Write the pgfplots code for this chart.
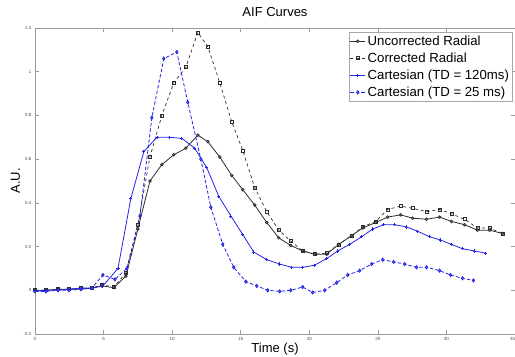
\documentclass[border=0pt]{standalone}
\usepackage{fontspec}
\setmainfont{Liberation Sans}
\usepackage{pgfplots}
\usepackage{pgfplotstable}
\pgfplotsset{compat=1.18}
\definecolor{dk}{RGB}{45,45,45}
\definecolor{bl}{RGB}{35,35,235}

\pgfplotstableread{
x y
0 0.0
0.8 0.0
1.68 0.005
2.48 0.005
3.35 0.005
4.15 0.01
4.88 0.02
5.75 0.012
6.63 0.065
7.5 0.28
8.38 0.50
9.25 0.575
10.12 0.62
11.0 0.65
11.87 0.71
12.6 0.68
13.47 0.61
14.35 0.525
15.15 0.46
16.02 0.39
16.9 0.31
17.77 0.24
18.65 0.205
19.52 0.18
20.39 0.165
21.27 0.165
22.14 0.21
23.09 0.25
23.89 0.285
24.84 0.31
25.71 0.335
26.66 0.345
27.53 0.33
28.55 0.325
29.5 0.335
30.37 0.315
31.32 0.30
32.26 0.275
33.14 0.275
34.09 0.26
}\uncorr

\pgfplotstableread{
x y
0 0.0
0.8 0.0
1.68 0.005
2.48 0.005
3.35 0.01
4.15 0.01
4.88 0.025
5.75 0.015
6.63 0.08
7.5 0.30
8.38 0.61
9.25 0.80
10.12 0.95
11.0 1.02
11.87 1.18
12.6 1.115
13.47 0.95
14.35 0.77
15.15 0.64
16.02 0.47
16.9 0.36
17.77 0.275
18.65 0.225
19.52 0.18
20.39 0.165
21.27 0.17
22.14 0.21
23.09 0.25
23.89 0.29
24.84 0.315
25.71 0.37
26.66 0.385
27.53 0.375
28.55 0.36
29.5 0.37
30.37 0.35
31.32 0.325
32.26 0.285
33.14 0.285
34.09 0.26
}\corr

\pgfplotstableread{
x y
0 -0.005
0.8 0.0
1.68 0.0
2.48 0.005
3.35 0.01
4.15 0.01
4.95 0.02
6.05 0.10
6.99 0.42
7.94 0.635
8.89 0.70
9.83 0.70
10.71 0.695
11.65 0.65
12.53 0.56
13.40 0.43
14.28 0.34
15.15 0.255
15.95 0.175
16.90 0.14
17.84 0.12
18.72 0.105
19.52 0.105
20.39 0.115
21.27 0.145
22.07 0.18
22.94 0.21
23.82 0.245
24.62 0.28
25.42 0.30
26.22 0.30
27.09 0.29
27.90 0.27
28.77 0.245
29.57 0.23
30.37 0.21
31.17 0.19
32.05 0.18
32.85 0.17
}\cartA

\pgfplotstableread{
x y
0 -0.005
0.8 -0.005
1.68 0.0
2.48 0.0
3.35 0.005
4.15 0.01
4.95 0.07
5.83 0.05
6.70 0.10
7.65 0.34
8.52 0.79
9.39 1.06
10.34 1.09
11.14 0.86
12.09 0.60
12.82 0.38
13.69 0.21
14.49 0.105
15.37 0.04
16.17 0.02
16.97 0.0
17.84 -0.005
18.65 0.0
19.52 0.015
20.25 -0.01
21.12 0.0
22.0 0.035
22.80 0.07
23.67 0.09
24.55 0.12
25.35 0.14
26.15 0.13
26.95 0.12
27.82 0.105
28.55 0.105
29.50 0.09
30.30 0.07
31.17 0.055
31.97 0.045
}\cartB

\begin{document}
\begin{tikzpicture}
\begin{axis}[
  scale only axis, width=480pt, height=306pt,
  xmin=0, xmax=35, ymin=-0.2, ymax=1.2,
  xtick={0,5,10,15,20,25,30,35},
  xticklabels={0,5,10,15,20,25,30,\makebox[0pt][r]{35}},
  ytick={-0.2,0,0.2,0.4,0.6,0.8,1,1.2},
  yticklabels={-0.2,0,0.2,0.4,0.6,0.8,1,1.2},
  tick align=inside, major tick length=4pt,
  axis line style={gray!80}, tick style={gray!80, line width=0.5pt},
  ticklabel style={font=\fontsize{4.5}{5}\selectfont, text=gray!60!black},
  /pgf/number format/assume math mode=true,
  title={AIF Curves},
  title style={font=\fontsize{13}{13}\selectfont, at={(axis description cs:0.5,1)}, anchor=base, yshift=5pt},
  xlabel={Time (s)},
  xlabel style={font=\fontsize{13}{13}\selectfont, at={(axis description cs:0.5,0)}, anchor=base, yshift=-18pt},
  ylabel={A.U.},
  ylabel style={font=\fontsize{13}{13}\selectfont, at={(axis description cs:-0.0313,0.5)}, anchor=base, rotate=0},
  legend style={at={(axis description cs:0.994,0.987)}, anchor=north east,
    font=\fontsize{13.2}{13.2}\selectfont, draw=gray!70, inner xsep=1pt, inner ysep=1.5pt,
    row sep=2pt, /tikz/every even column/.append style={column sep=0pt}},
  legend cell align=left,
  legend image code/.code={\draw[mark repeat=2,mark phase=2,#1] plot coordinates {(0pt,0pt) (7.5pt,0pt) (15pt,0pt)};},
]
\addplot[dk, line width=0.8pt, mark=*, mark size=1.3pt, mark options={fill=gray!60, draw=dk, solid}] table {\uncorr};
\addlegendentry{Uncorrected Radial}
\addplot[dk, line width=0.7pt, dashed, mark=square, mark size=1.5pt, mark options={solid, fill=white}] table {\corr};
\addlegendentry{Corrected Radial}
\addplot[bl, line width=0.8pt, mark=+, mark size=1.6pt, mark options={solid}] table {\cartA};
\addlegendentry{Cartesian (TD = 120ms)}
\addplot[bl, line width=0.8pt, dash pattern=on 3.5pt off 2pt, mark=diamond*, mark size=1.6pt, mark options={solid, fill=bl!60}] table {\cartB};
\addlegendentry{Cartesian (TD = 25 ms)}
\end{axis}
\pgfresetboundingbox
\path[use as bounding box] ([xshift=-35pt,yshift=-22pt]current axis.south west) rectangle ([yshift=28pt]current axis.north east);
\end{tikzpicture}
\end{document}
